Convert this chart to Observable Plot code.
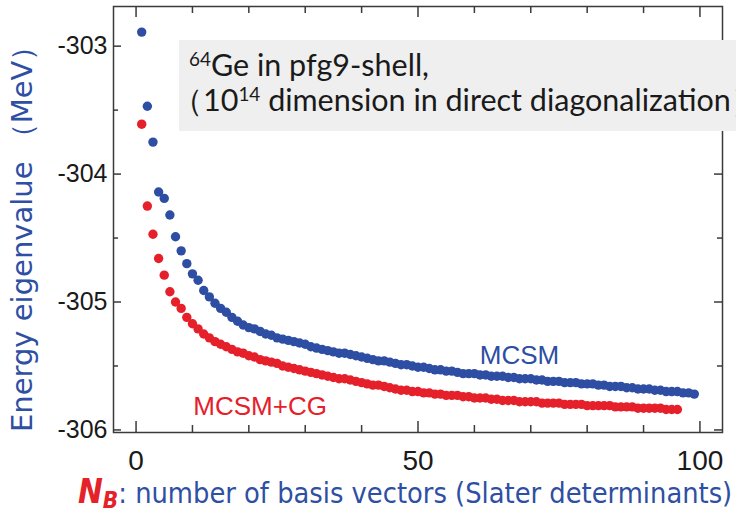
<!DOCTYPE html>
<html>
<head>
<meta charset="utf-8">
<script src="https://cdn.jsdelivr.net/npm/d3@7"></script>
<script src="https://cdn.jsdelivr.net/npm/@observablehq/plot@0.6"></script>
<style>
  html, body { margin: 0; padding: 0; background: #fff; overflow: hidden; }
  #wrap { position: relative; width: 736px; height: 514px; overflow: hidden; }
  #wrap svg { position: absolute; left: 0; top: 0; }
  .note { position: absolute; left: 179px; top: 40px; width: 557px; height: 91px; background: #efefef;
          font-family: Lato, "Open Sans", sans-serif; font-size: 30.5px; color: #1a1a1a; line-height: 35px; white-space: nowrap; }
  .note .l1 { position: absolute; left: 10px; top: 7px; }
  .note .l2 { position: absolute; left: -7px; top: 42px; }
  .note sup { font-size: 0.62em; vertical-align: 0.55em; line-height: 0; }
  .ytitle { position: absolute; left: 4px; top: 432px; transform-origin: 0 0; transform: rotate(-90deg);
            font-family: "DejaVu Sans", sans-serif; font-size: 29px; line-height: 36px; color: #2e4fa3; white-space: nowrap; }
  .xtitle { position: absolute; left: 78px; top: 475px; font-family: "DejaVu Sans Condensed", "DejaVu Sans", sans-serif;
            font-size: 28.7px; line-height: 34px; color: #2e4fa3; white-space: nowrap; }
  .xtitle .nb { color: #e52129; font-weight: bold; font-style: italic; font-size: 33px; }
  .xtitle .nb sub { font-size: 0.68em; vertical-align: -0.22em; line-height: 0; }
</style>
</head>
<body>
<div id="wrap"></div>
<script>
// ---- data ----
const seriesNames = ["MCSM", "MCSM+CG"];
const nbMCSM = d3.range(1, 100);   // N_B = 1..99
const eMCSM = [
  -302.89, -303.47, -303.75, -304.14, -304.19, -304.32, -304.49, -304.60, -304.70, -304.78,
  -304.83, -304.91, -304.96, -305.01, -305.05, -305.08, -305.12, -305.15, -305.18, -305.20,
  -305.21, -305.23, -305.25, -305.26, -305.28, -305.29, -305.30, -305.31, -305.32, -305.33,
  -305.35, -305.36, -305.37, -305.38, -305.39, -305.40, -305.40, -305.41, -305.42, -305.43,
  -305.44, -305.45, -305.46, -305.46, -305.47, -305.48, -305.49, -305.49, -305.50, -305.51,
  -305.51, -305.52, -305.53, -305.53, -305.54, -305.54, -305.55, -305.56, -305.56, -305.56,
  -305.57, -305.57, -305.58, -305.58, -305.58, -305.59, -305.59, -305.60, -305.60, -305.60,
  -305.61, -305.61, -305.62, -305.62, -305.62, -305.63, -305.63, -305.63, -305.64, -305.64,
  -305.64, -305.65, -305.65, -305.66, -305.66, -305.66, -305.67, -305.67, -305.68, -305.68,
  -305.68, -305.69, -305.69, -305.70, -305.70, -305.70, -305.71, -305.71, -305.72
];
const nbCG = d3.range(1, 97);      // N_B = 1..96
const eCG = [
  -303.61, -304.25, -304.47, -304.66, -304.79, -304.92, -305.00, -305.05, -305.12, -305.17,
  -305.21, -305.25, -305.28, -305.31, -305.33, -305.35, -305.37, -305.39, -305.40, -305.42,
  -305.43, -305.45, -305.46, -305.47, -305.48, -305.50, -305.51, -305.52, -305.53, -305.54,
  -305.55, -305.56, -305.57, -305.58, -305.59, -305.60, -305.60, -305.61, -305.62, -305.63,
  -305.64, -305.65, -305.65, -305.66, -305.67, -305.68, -305.69, -305.69, -305.70, -305.70,
  -305.71, -305.71, -305.72, -305.72, -305.73, -305.73, -305.73, -305.74, -305.74, -305.75,
  -305.75, -305.75, -305.76, -305.76, -305.77, -305.77, -305.77, -305.78, -305.78, -305.78,
  -305.78, -305.79, -305.79, -305.79, -305.79, -305.80, -305.80, -305.80, -305.80, -305.81,
  -305.81, -305.81, -305.81, -305.81, -305.82, -305.82, -305.82, -305.82, -305.83, -305.83,
  -305.83, -305.83, -305.83, -305.84, -305.84, -305.84
];
const xMajorTicks = [0, 50, 100];
const xMinorTicks = [10, 20, 30, 40, 60, 70, 80, 90];
const yMajorTicks = [-303, -304, -305, -306];
const yMinorTicks = [-303.5, -304.5, -305.5];
// series label positions (data coordinates)
const labelN = [68.0, 22.0];
const labelE = [-305.42, -305.82];

const blue = "#2d4ea3";
const red = "#e6202a";
const ink = "#3a3a3a";

const dataMCSM = nbMCSM.map((n, i) => ({n, e: eMCSM[i]}));
const dataCG = nbCG.map((n, i) => ({n, e: eCG[i]}));
const labels = seriesNames.map((s, i) => ({s, n: labelN[i], e: labelE[i], c: i === 0 ? blue : red}));

const W = 736, H = 514, mL = 113, mR = 14, mT = 6, mB = 82;
const pw = W - mL - mR, ph = H - mT - mB;
const tickFont = "'Liberation Sans', Arial, sans-serif";

const chart = Plot.plot({
  width: W, height: H,
  marginLeft: mL, marginRight: mR, marginTop: mT, marginBottom: mB,
  style: {background: "transparent", overflow: "visible"},
  x: {domain: [-4, 104], axis: null},
  y: {domain: [-306.02, -302.69], axis: null},
  marks: [
    // inward ticks: left / right
    Plot.tickY(yMajorTicks, {y: d => d, stroke: ink, strokeWidth: 1.5, insetRight: pw - 8}),
    Plot.tickY(yMinorTicks, {y: d => d, stroke: ink, strokeWidth: 1.5, insetRight: pw - 5}),
    Plot.tickY(yMajorTicks, {y: d => d, stroke: ink, strokeWidth: 1.5, insetLeft: pw - 8}),
    Plot.tickY(yMinorTicks, {y: d => d, stroke: ink, strokeWidth: 1.5, insetLeft: pw - 5}),
    // inward ticks: bottom / top
    Plot.tickX(xMajorTicks, {x: d => d, stroke: ink, strokeWidth: 1.5, insetTop: ph - 11}),
    Plot.tickX(xMinorTicks, {x: d => d, stroke: ink, strokeWidth: 1.5, insetTop: ph - 7}),
    Plot.tickX(xMajorTicks, {x: d => d, stroke: ink, strokeWidth: 1.5, insetBottom: ph - 11}),
    Plot.tickX(xMinorTicks, {x: d => d, stroke: ink, strokeWidth: 1.5, insetBottom: ph - 7}),
    Plot.frame({stroke: ink, strokeWidth: 1.5}),
    // tick labels
    Plot.axisY(yMajorTicks, {anchor: "left", tickSize: 0, tickPadding: 6, label: null,
      fontSize: 25, fontFamily: tickFont, fill: "#1a1a1a", tickFormat: d => String(d)}),
    Plot.axisX(xMajorTicks, {anchor: "bottom", tickSize: 0, tickPadding: 18, label: null,
      fontSize: 28, fontFamily: tickFont, fill: "#1a1a1a", tickFormat: d => String(d)}),
    // data
    Plot.dot(dataMCSM, {x: "n", y: "e", r: 4.7, fill: blue, stroke: "none"}),
    Plot.dot(dataCG, {x: "n", y: "e", r: 4.7, fill: red, stroke: "none"}),
    Plot.text(labels, {x: "n", y: "e", text: "s", fill: "c", fontSize: 26,
      fontFamily: "'Liberation Sans', Arial, sans-serif"})
  ]
});

const wrap = document.getElementById("wrap");
wrap.appendChild(chart);

const note = document.createElement("div");
note.className = "note";
note.innerHTML = '<span class="l1"><sup>64</sup>Ge in pfg9-shell,</span>' +
                 '<span class="l2">（10<sup>14</sup> dimension in direct diagonalization）</span>';
wrap.appendChild(note);

const yt = document.createElement("div");
yt.className = "ytitle";
yt.textContent = "Energy eigenvalue （MeV）";
wrap.appendChild(yt);

const xt = document.createElement("div");
xt.className = "xtitle";
xt.innerHTML = '<span class="nb">N<sub>B</sub></span>: number of basis vectors (Slater determinants)';
wrap.appendChild(xt);
</script>
</body>
</html>
